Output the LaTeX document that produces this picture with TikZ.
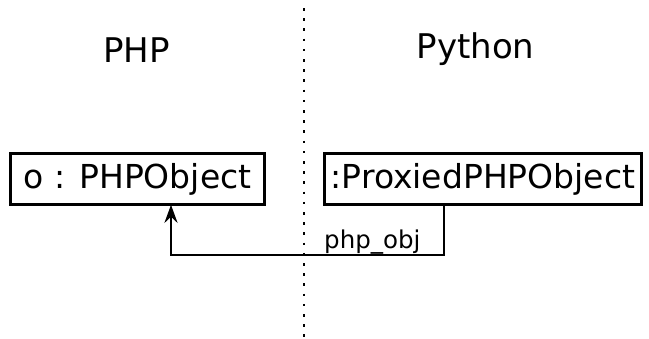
\documentclass[tikz,border=0pt]{standalone}
\usepackage{fontspec}
\setmainfont{DejaVu Sans}
\usetikzlibrary{arrows.meta,calc}
\begin{document}
\begin{tikzpicture}[x=1pt,y=-1pt,
  title/.style={font=\fontsize{34}{40}\selectfont,anchor=base,inner sep=0pt},
  objbox/.style={draw,line width=3.6pt,minimum height=51pt,inner sep=0pt,
    font=\fontsize{33}{38}\selectfont},
  link/.style={line width=2.8pt},
  rolelabel/.style={font=\fontsize{24.5}{28}\selectfont,anchor=base west,inner sep=0pt},
  divider/.style={line width=2.5pt,dash pattern=on 2.5pt off 7.7pt}]
  \useasboundingbox (0,0) rectangle (649,338);

  % language swimlanes
  \coordinate (divtop) at (304,8);
  \coordinate (divbot) at (304,338);
  \draw[divider] (divtop) -- (divbot);
  \node[title] (php) at (136.5,62) {PHP};
  \node[title] (py) at (475.5,58) {Python};

  % objects
  \node[objbox,minimum width=254pt] (o) at (137.5,179) {o : PHPObject};
  \node[objbox,minimum width=317pt] (p) at (483,179) {:ProxiedPHPObject};

  % reference from the proxy to the PHP object
  \coordinate (bendR) at (444,255);
  \coordinate (bendL) at (171,255);
  \draw[link,-{Stealth[length=18pt,width=13pt,inset=6pt]},shorten >=-1.5pt]
    (bendR |- p.south) -- (bendR) -- (bendL) -- (bendL |- o.south);
  \node[rolelabel] (lbl) at (324,248) {php\_obj};
\end{tikzpicture}
\end{document}
